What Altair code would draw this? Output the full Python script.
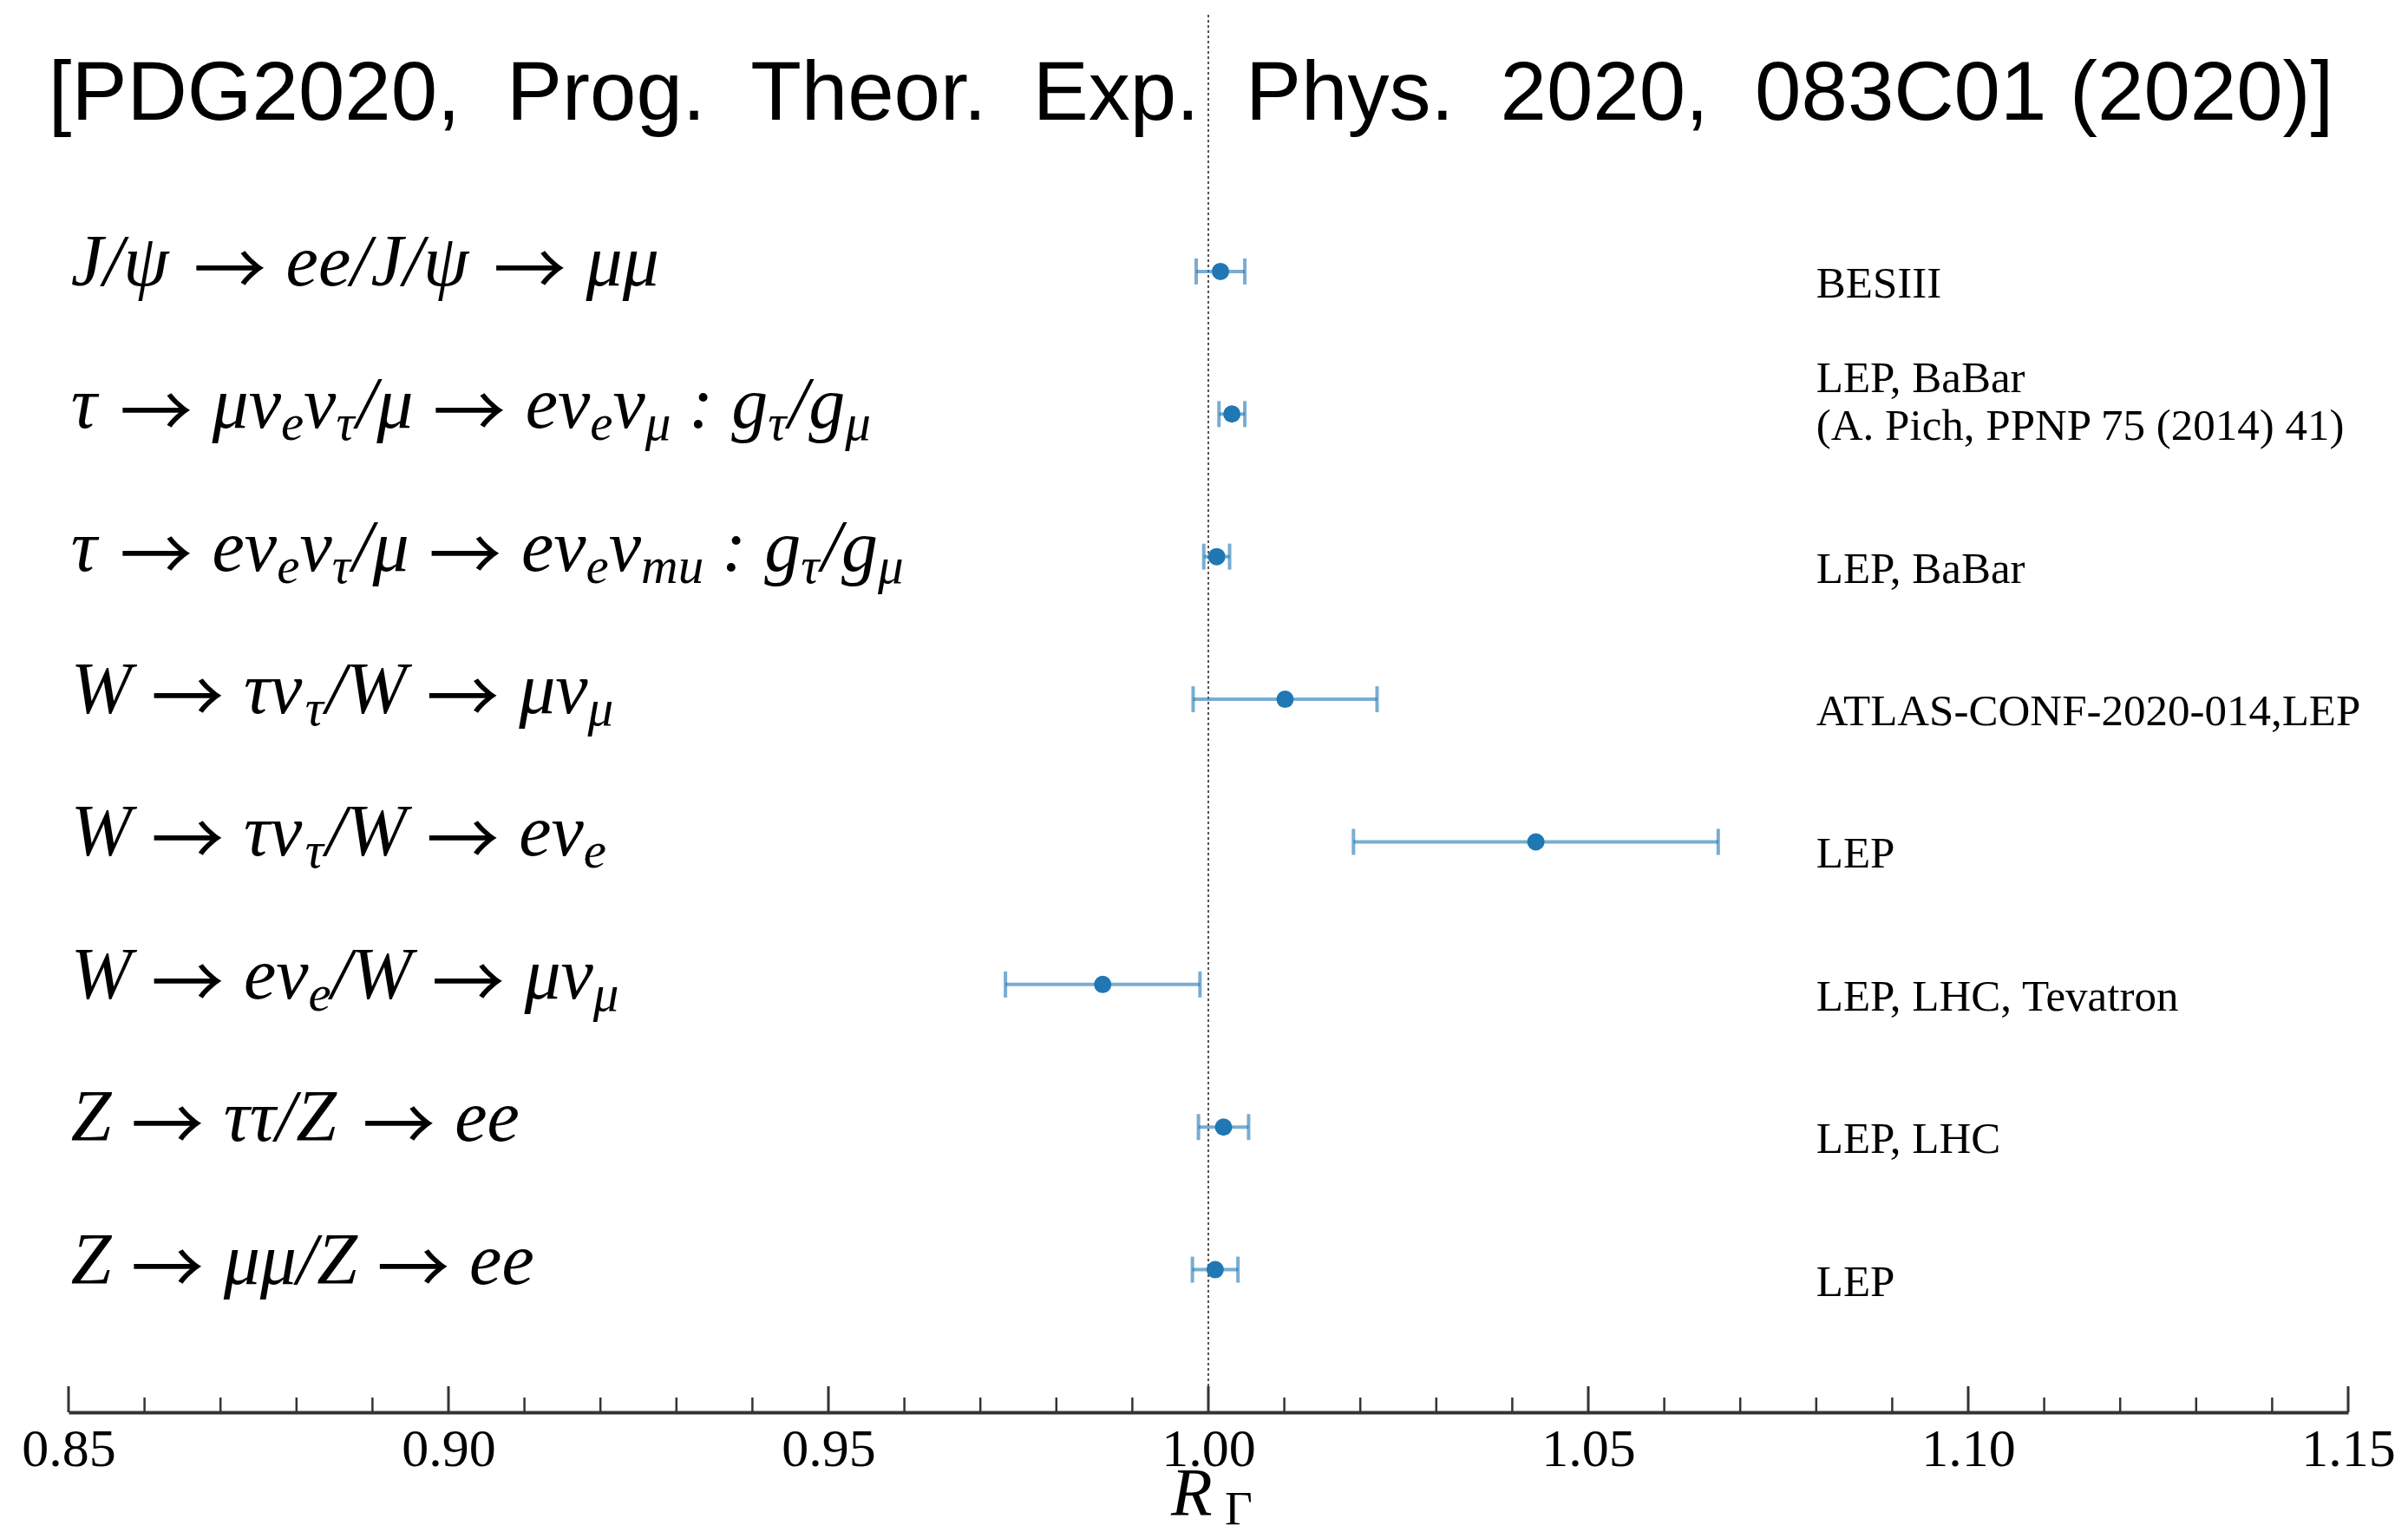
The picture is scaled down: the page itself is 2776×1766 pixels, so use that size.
import altair as alt
import pandas as pd

# ---------------- data ----------------
TITLE = "[PDG2020,\u00a0 Prog.\u00a0 Theor.\u00a0 Exp.\u00a0 Phys.\u00a0 2020,\u00a0 083C01 (2020)]"

# label segments: (text, is_subscript)
LABELS = [
    [("J/ψ → ee/J/ψ → μμ", 0)],
    [("τ → μν", 0), ("e", 1), ("ν", 0), ("τ", 1), ("/μ → eν", 0), ("e", 1), ("ν", 0), ("μ", 1),
     (" : g", 0), ("τ", 1), ("/g", 0), ("μ", 1)],
    [("τ → eν", 0), ("e", 1), ("ν", 0), ("τ", 1), ("/μ → eν", 0), ("e", 1), ("ν", 0), ("mu", 1),
     (" : g", 0), ("τ", 1), ("/g", 0), ("μ", 1)],
    [("W → τν", 0), ("τ", 1), ("/W → μν", 0), ("μ", 1)],
    [("W → τν", 0), ("τ", 1), ("/W → eν", 0), ("e", 1)],
    [("W → eν", 0), ("e", 1), ("/W → μν", 0), ("μ", 1)],
    [("Z → ττ/Z → ee", 0)],
    [("Z → μμ/Z → ee", 0)],
]
VALUES = [1.0016, 1.0031, 1.0011, 1.0101, 1.0431, 0.9861, 1.0020, 1.0009]
ERRORS = [0.0032, 0.0017, 0.0017, 0.0121, 0.0240, 0.0128, 0.0033, 0.0030]
SOURCES = [
    ["BESIII"],
    ["LEP, BaBar", "(A. Pich, PPNP 75 (2014) 41)"],
    ["LEP, BaBar"],
    ["ATLAS-CONF-2020-014,LEP"],
    ["LEP"],
    ["LEP, LHC, Tevatron"],
    ["LEP, LHC"],
    ["LEP"],
]
MAJOR_TICKS = [0.85, 0.90, 0.95, 1.00, 1.05, 1.10, 1.15]
MINOR_TICKS = [0.86, 0.87, 0.88, 0.89, 0.91, 0.92, 0.93, 0.94,
               0.96, 0.97, 0.98, 0.99, 1.01, 1.02, 1.03, 1.04,
               1.06, 1.07, 1.08, 1.09, 1.11, 1.12, 1.13, 1.14]
X_LABEL = 0.8503
X_SOURCE = 1.08
REF_LINE = 1.0

# ---------------- layout / style ----------------
W, H = 2628, 1611
XMIN, XMAX = 0.85, 1.15
YMAX = 9.8
PX_PER_UNIT = W / (XMAX - XMIN)
FS_MAIN, FS_SUB, FS_ARROW = 84, 59, 84
ARROW = "→"
ARROW_EM = 1.0
GAP_EM = 0.27
BLUE = "#1f77b4"
SERIF = "Liberation Serif, DejaVu Serif, serif"

EM = {" ": 0.25, "/": 0.278, ":": 0.333, "e": 0.444, "g": 0.5, "m": 0.722,
      "u": 0.5, "J": 0.444, "W": 0.833, "Z": 0.556, "μ": 0.5, "ν": 0.444, "τ": 0.40,
      "ψ": 0.69}


def em_width(s):
    return sum(EM.get(c, 0.5) for c in s)


n = len(LABELS)
seg_rows = []


def add(pos, text, kind, off):
    seg_rows.append(dict(pos=pos, text=text, kind=kind, x=X_LABEL + off / PX_PER_UNIT))


for i, segs in enumerate(LABELS):
    pos = n - i
    off = 0.0
    for text, sub in segs:
        if sub:
            add(pos, text, "sub", off)
            off += em_width(text) * FS_SUB
            continue
        parts = text.split(ARROW)
        for k, part in enumerate(parts):
            if k > 0:
                off += GAP_EM * FS_MAIN
                add(pos, ARROW, "arrow", off)
                off += ARROW_EM * FS_ARROW + GAP_EM * FS_MAIN
                part = part.lstrip(" ")
            else:
                lead = len(part) - len(part.lstrip(" "))
                off += lead * EM[" "] * FS_MAIN
                part = part.lstrip(" ")
            if k < len(parts) - 1:
                part = part.rstrip(" ")
            if part:
                add(pos, part.replace(" ", "\u00a0"), "main", off)
                off += em_width(part) * FS_MAIN
segs_df = pd.DataFrame(seg_rows)

data_df = pd.DataFrame({
    "pos": [n - i for i in range(n)],
    "val": VALUES,
    "lo": [v - e for v, e in zip(VALUES, ERRORS)],
    "hi": [v + e for v, e in zip(VALUES, ERRORS)],
    "last": [s[-1] for s in SOURCES],
    "first": [s[0] if len(s) > 1 else "" for s in SOURCES],
    "xs": [X_SOURCE] * n,
})

xs = alt.Scale(domain=[XMIN, XMAX], nice=False, zero=False)
ys = alt.Scale(domain=[0, YMAX], nice=False, zero=False)
XAX = alt.Axis(values=MAJOR_TICKS, format=".2f", title=None, grid=False, ticks=False,
               tickSize=0, domain=True, domainColor="#333333", domainWidth=4,
               labelFont="Liberation Serif", labelFontSize=62, labelColor="#000000",
               labelPadding=12, labelFlush=False)


def X(field):
    return alt.X(field, type="quantitative", scale=xs, axis=XAX)


def Y(field):
    return alt.Y(field, type="quantitative", scale=ys, axis=None)


ref = alt.Chart(pd.DataFrame({"x": [REF_LINE]})).mark_rule(
    color="#555555", strokeWidth=2, strokeDash=[3, 3]
).encode(x=X("x"), y=alt.value(0), y2=alt.value(H))

base = alt.Chart(data_df)
bars = base.mark_rule(color=BLUE, opacity=0.6, strokeWidth=4).encode(
    x=X("lo"), x2="hi", y=Y("pos"))
cap_lo = base.mark_tick(color=BLUE, opacity=0.6, thickness=4, size=30, orient="vertical").encode(
    x=X("lo"), y=Y("pos"))
cap_hi = base.mark_tick(color=BLUE, opacity=0.6, thickness=4, size=30, orient="vertical").encode(
    x=X("hi"), y=Y("pos"))
points = base.mark_circle(color=BLUE, opacity=1, size=400).encode(x=X("val"), y=Y("pos"))

src_last = base.mark_text(align="left", baseline="alphabetic", dy=30, font=SERIF,
                          fontSize=51, color="#000000").encode(
    x=X("xs"), y=Y("pos"), text="last:N")
src_first = base.mark_text(align="left", baseline="alphabetic", dy=-25, font=SERIF,
                           fontSize=51, color="#000000").encode(
    x=X("xs"), y=Y("pos"), text="first:N")

segs = alt.Chart(segs_df)
main_txt = segs.transform_filter("datum.kind == 'main'").mark_text(
    align="left", baseline="alphabetic", dy=16, font=SERIF, fontStyle="italic",
    fontSize=FS_MAIN, color="#000000").encode(x=X("x"), y=Y("pos"), text="text:N")
sub_txt = segs.transform_filter("datum.kind == 'sub'").mark_text(
    align="left", baseline="alphabetic", dy=30, font=SERIF, fontStyle="italic",
    fontSize=FS_SUB, color="#000000").encode(x=X("x"), y=Y("pos"), text="text:N")
arrow_txt = segs.transform_filter("datum.kind == 'arrow'").mark_text(
    align="left", baseline="alphabetic", dy=28, font="Noto Sans CJK JP, DejaVu Sans",
    fontSize=FS_ARROW, color="#000000").encode(x=X("x"), y=Y("pos"), text="text:N")

major = alt.Chart(pd.DataFrame({"t": MAJOR_TICKS})).mark_rule(
    color="#333333", strokeWidth=3).encode(x=X("t"), y=alt.datum(0), y2=alt.value(H - 30))
minor = alt.Chart(pd.DataFrame({"t": MINOR_TICKS})).mark_rule(
    color="#333333", strokeWidth=2.5).encode(x=X("t"), y=alt.datum(0), y2=alt.value(H - 17))

title = alt.Chart(pd.DataFrame({"t": [TITLE]})).mark_text(
    align="center", baseline="alphabetic", font="Liberation Sans", fontSize=96,
    color="#000000").encode(text="t:N", x=alt.value(1294), y=alt.value(121))

ax_r = alt.Chart(pd.DataFrame({"t": ["R"]})).mark_text(
    align="left", baseline="alphabetic", font=SERIF, fontStyle="italic", fontSize=78,
    color="#000000").encode(text="t:N", x=alt.value(1271), y=alt.value(1729))
ax_g = alt.Chart(pd.DataFrame({"t": ["Γ"]})).mark_text(
    align="left", baseline="alphabetic", font=SERIF, fontSize=55,
    color="#000000").encode(text="t:N", x=alt.value(1333), y=alt.value(1740))

chart = alt.layer(
    ref, bars, cap_lo, cap_hi, points, src_last, src_first, main_txt, sub_txt, arrow_txt,
    major, minor, title, ax_r, ax_g
).properties(
    width=W, height=H,
    autosize=alt.AutoSizeParams(type="none"),
    padding={"left": 71, "top": 9, "right": 61, "bottom": 142},
).configure_view(stroke=None)

chart.save("out.html", embed_options={"renderer": "svg", "actions": False})
